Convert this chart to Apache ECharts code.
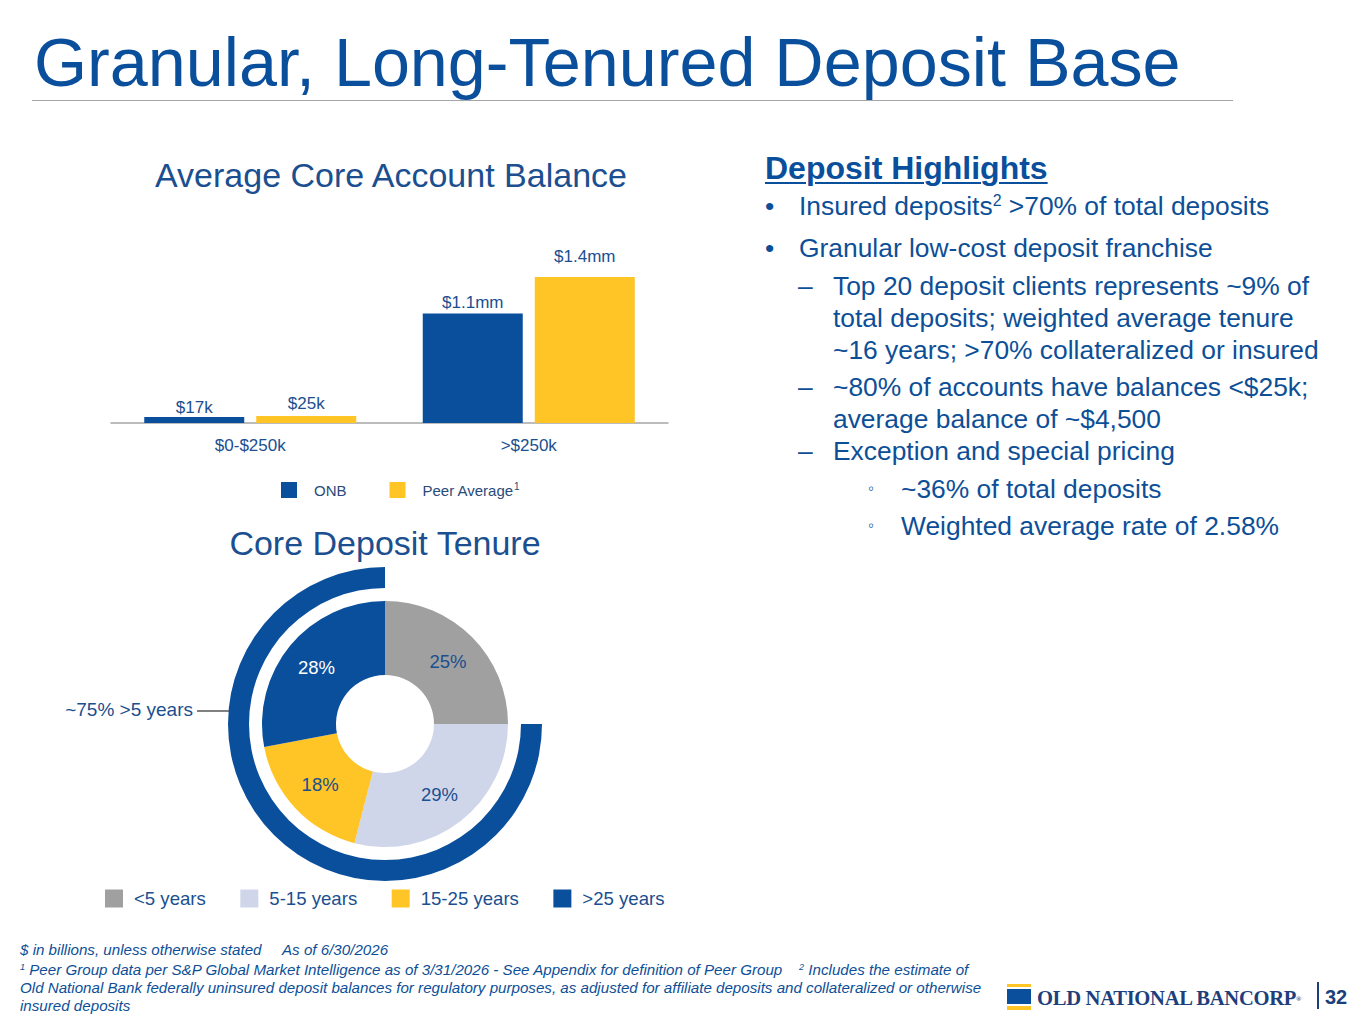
<!DOCTYPE html>
<html>
<head>
<meta charset="utf-8">
<script src="https://cdn.jsdelivr.net/npm/echarts@6/dist/echarts.min.js"></script>
<style>
  html, body { margin:0; padding:0; background:#fff; }
  body { width:1365px; height:1024px; position:relative; overflow:hidden; font-family:"Liberation Sans", Arial, sans-serif; }
  #chart { position:absolute; left:0; top:0; width:1365px; height:1024px; }
  .t { position:absolute; white-space:nowrap; color:#0d4f97; }
  .hl { font-size:26.4px; line-height:32px; }
  sup { font-size:0.6em; vertical-align:0.6em; line-height:0; }
  .foot { position:absolute; left:20px; font-size:15.15px; font-style:italic; color:#0d4f97; white-space:nowrap; line-height:18px; }
</style>
</head>
<body>
<div id="chart"></div>

<div class="t" style="left:34px;top:24px;font-size:68.3px;line-height:76px;color:#0a4f9c;">Granular, Long-Tenured Deposit Base</div>
<div style="position:absolute;left:32px;top:100px;width:1201px;height:1px;background:#a6a6a6;"></div>

<div class="t" style="left:765px;top:149px;font-size:32px;line-height:38px;font-weight:bold;text-decoration:underline;text-decoration-thickness:2px;text-underline-offset:3px;color:#0a4f9c;">Deposit Highlights</div>
<div class="t hl" style="left:765px;top:190px;">•</div>
<div class="t hl" style="left:799px;top:190px;">Insured deposits<sup>2</sup> &gt;70% of total deposits</div>
<div class="t hl" style="left:765px;top:232px;">•</div>
<div class="t hl" style="left:799px;top:232px;">Granular low-cost deposit franchise</div>
<div class="t hl" style="left:798px;top:270px;">–</div>
<div class="t hl" style="left:833px;top:270px;">Top 20 deposit clients represents ~9% of</div>
<div class="t hl" style="left:833px;top:302px;">total deposits; weighted average tenure</div>
<div class="t hl" style="left:833px;top:334px;">~16 years; &gt;70% collateralized or insured</div>
<div class="t hl" style="left:798px;top:371px;">–</div>
<div class="t hl" style="left:833px;top:371px;">~80% of accounts have balances &lt;$25k;</div>
<div class="t hl" style="left:833px;top:403px;">average balance of ~$4,500</div>
<div class="t hl" style="left:798px;top:435px;">–</div>
<div class="t hl" style="left:833px;top:435px;">Exception and special pricing</div>
<div class="t" style="left:868px;top:473px;font-size:17px;line-height:32px;">◦</div>
<div class="t hl" style="left:901px;top:473px;">~36% of total deposits</div>
<div class="t" style="left:868px;top:510px;font-size:17px;line-height:32px;">◦</div>
<div class="t hl" style="left:901px;top:510px;">Weighted average rate of 2.58%</div>

<div class="foot" style="top:941px;">$ in billions, unless otherwise stated &nbsp;&nbsp;&nbsp; As of 6/30/2026</div>
<div class="foot" style="top:961px;"><sup>1</sup> Peer Group data per S&amp;P Global Market Intelligence as of 3/31/2026 - See Appendix for definition of Peer Group &nbsp;&nbsp; <sup>2</sup> Includes the estimate of</div>
<div class="foot" style="top:979px;">Old National Bank federally uninsured deposit balances for regulatory purposes, as adjusted for affiliate deposits and collateralized or otherwise</div>
<div class="foot" style="top:997px;">insured deposits</div>

<div style="position:absolute;left:1007px;top:984px;width:24px;height:3px;background:#ffc425;"></div>
<div style="position:absolute;left:1007px;top:989px;width:24px;height:15px;background:#0a4f9c;"></div>
<div style="position:absolute;left:1007px;top:1006px;width:24px;height:4px;background:#ffc425;"></div>
<div class="t" style="left:1037px;top:986px;font-family:'Liberation Serif','DejaVu Serif',serif;font-weight:bold;font-size:20.6px;line-height:24px;color:#1d3f7c;letter-spacing:-0.3px;">OLD NATIONAL BANCORP<sup style="font-size:7px;">®</sup></div>
<div style="position:absolute;left:1317px;top:982px;width:2px;height:27px;background:#1d3f7c;"></div>
<div class="t" style="left:1325px;top:985px;font-weight:bold;font-size:20px;line-height:24px;color:#1d3f7c;">32</div>

<script>
// ---- data ----
var barCategories = ['$0-$250k', '>$250k'];
var onbBalances = [0.017, 1.05];          // $mm
var peerBalances = [0.025, 1.40];         // $mm
var onbLabels = ['$17k', '$1.1mm'];
var peerLabels = ['$25k', '$1.4mm'];

var tenureNames = ['<5 years', '5-15 years', '15-25 years', '>25 years'];
var tenureValues = [25, 29, 18, 28];      // %
var over5Label = '~75% >5 years';

// ---- styles ----
var BLUE = '#0a4f9c', YELLOW = '#ffc425', GRAY = '#a0a0a0', LIGHT = '#d0d6ea';
var TXT = '#1b4f8f';
var FONT = '"Liberation Sans", Arial, sans-serif';
var onbLabelDist = [1, 3], peerLabelDist = [4, 12];

var over5 = tenureValues.slice(1).reduce(function(a,b){return a+b;}, 0);

function barData(vals, dists){
  return vals.map(function(v,i){ return {value:v, label:{distance:dists[i]}}; });
}

var chart = echarts.init(document.getElementById('chart'), null, {renderer:'svg', width:1365, height:1024});

chart.setOption({
  animation:false,
  textStyle:{fontFamily:FONT},
  title:[
    {text:'Average Core Account Balance', left:386, top:153, textAlign:'center',
     textStyle:{fontSize:34, fontWeight:'normal', color:TXT, fontFamily:FONT}},
    {text:'Core Deposit Tenure', left:380, top:521, textAlign:'center',
     textStyle:{fontSize:34, fontWeight:'normal', color:TXT, fontFamily:FONT}}
  ],
  grid:{left:111, right:697, top:277, bottom:601},
  xAxis:{type:'category', data:barCategories,
    axisLine:{lineStyle:{color:'#a6a6a6', width:1.5}}, axisTick:{show:false},
    axisLabel:{color:TXT, fontSize:17, margin:14, fontFamily:FONT}},
  yAxis:{type:'value', min:0, max:1.4, show:false, splitLine:{show:false}},
  legend:[
    {data:['ONB','Peer Average'], left:281, top:481, padding:0, icon:'rect', itemWidth:16, itemHeight:16, itemGap:43,
     textStyle:{color:'#2a4a7a', fontSize:15, padding:[0,0,0,12], fontFamily:FONT,
       rich:{sup:{fontSize:10, verticalAlign:'top', padding:[0,0,8,0], color:'#2a4a7a'}}},
     formatter:function(n){return n==='Peer Average' ? n+'{sup|1}' : n;}},
    {data:tenureNames, left:105, top:889, padding:0, icon:'rect', itemWidth:18, itemHeight:18, itemGap:34.5,
     textStyle:{color:TXT, fontSize:18.6, padding:[0,0,0,6], fontFamily:FONT}}
  ],
  series:[
    {name:'ONB', type:'bar', data:barData(onbBalances, onbLabelDist), barWidth:100, barGap:'12%', barMinHeight:6,
     itemStyle:{color:BLUE},
     label:{show:true, position:'top', color:TXT, fontSize:17, fontFamily:FONT,
       formatter:function(p){return onbLabels[p.dataIndex];}}},
    {name:'Peer Average', type:'bar', data:barData(peerBalances, peerLabelDist), barWidth:100, barMinHeight:7,
     itemStyle:{color:YELLOW},
     label:{show:true, position:'top', color:TXT, fontSize:17, fontFamily:FONT,
       formatter:function(p){return peerLabels[p.dataIndex];}}},
    {name:'Tenure', type:'pie', center:[385,724], radius:[49,123], startAngle:90, clockwise:true,
     silent:true,
     data:tenureNames.map(function(n,i){
       return {name:n, value:tenureValues[i], itemStyle:{color:[GRAY,LIGHT,YELLOW,BLUE][i]},
               label:{color: i===3 ? '#ffffff' : TXT}};
     }),
     label:{show:true, position:'inside', fontSize:18.5, fontFamily:FONT,
       formatter:function(p){return p.value+'%';}},
     labelLine:{show:false}},
    {name:'Over5', type:'pie', center:[385,724], radius:[136,157], startAngle:90, clockwise:true,
     silent:true, label:{show:false}, labelLine:{show:false},
     data:[{name:'hidden', value:tenureValues[0], itemStyle:{color:'rgba(0,0,0,0)'}},
           {name:over5Label, value:over5, itemStyle:{color:BLUE}}]}
  ],
  graphic:[
    {type:'text', right:1365-193, top:700, style:{text:over5Label, fill:TXT, font:'19px '+FONT, textAlign:'right'}},
    {type:'line', shape:{x1:197, y1:711, x2:230, y2:711}, style:{stroke:'#808080', lineWidth:2}}
  ]
});
</script>
</body>
</html>
